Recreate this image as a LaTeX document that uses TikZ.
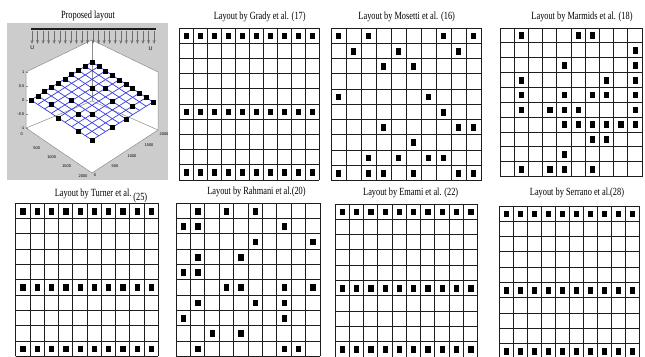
\documentclass[tikz,border=0pt]{standalone}
\usepackage{fontspec}
\usepackage{tikz}
\usetikzlibrary{arrows.meta,plotmarks}
\newfontfamily\ttlfont[FakeStretch=0.76]{Liberation Serif}
\newfontfamily\axfont{Liberation Sans}
\definecolor{figline}{RGB}{30,30,30}
\definecolor{figpanel}{RGB}{204,204,204}
\definecolor{figbox}{RGB}{140,140,140}
\definecolor{figmesh}{RGB}{55,60,225}
\definecolor{figwind}{RGB}{110,110,110}
\tikzset{
  cellg/.style ={draw=figline, line width=0.9bp, step=1},
  wt/.style    ={mark=square*, mark size=2.5bp, mark options={fill=black, draw=black, xscale=0.86, yscale=1.14}},
  wtd/.style   ={mark=square*, mark size=2bp, mark options={fill=black, draw=black}},
  bx/.style    ={draw=figbox, line width=0.5bp},
  msh/.style   ={draw=figmesh, line width=0.7bp},
  ttl/.style   ={font=\ttlfont\fontsize{11}{12}\selectfont, inner sep=0pt, anchor=base},
  labs/.style  ={font=\axfont\fontsize{4}{4}\selectfont, inner sep=0pt},
  labu/.style  ={font=\axfont\fontsize{5.5}{5.5}\selectfont, inner sep=0pt},
  wnd/.style   ={draw=figwind, line width=0.5bp, -{Stealth[open,length=4bp,width=3bp]}},
}

\begin{document}
\begin{tikzpicture}[x=1bp,y=-1bp]
  \useasboundingbox (0,0) rectangle (645,356);
  % proposed layout (3d view)
  \fill[figpanel] (7,23) rectangle (168,180);
  \node[ttl] (tprop) at (88,18.5) {Proposed layout};
  \fill[white] (26,72) -- (92,40) -- (158,72) -- (158,130) -- (92,173) -- (26,128) -- cycle;
  \draw[bx] (26,128) -- (26,72) -- (92,40) -- (158,72) -- (158,130);
  \draw[bx] (26,128) -- (92,173) -- (158,130);
  \draw[bx] (92,40) -- (92,101);
  \draw[bx] (26,128) -- (92,101) -- (158,130);
  \draw[bx] (26,72) -- (28,72);
  \draw[bx] (26,86) -- (28,86);
  \draw[bx] (26,100) -- (28,100);
  \draw[bx] (26,114) -- (28,114);
  \draw[bx] (26,128) -- (28,128);
  \node[labs,anchor=east] (z1) at (24.5,72) {1};
  \node[labs,anchor=east] (z2) at (24.5,86) {0.5};
  \node[labs,anchor=east] (z3) at (24.5,100) {0};
  \node[labs,anchor=east] (z4) at (24.5,114) {-0.5};
  \node[labs,anchor=east] (z5) at (24.5,128) {-1};
  \node[labs] (xa1) at (21.7,134.3) {0};
  \node[labs] (xa2) at (36.7,148) {500};
  \node[labs] (xa3) at (51.7,157) {1000};
  \node[labs] (xa4) at (66.7,166) {1500};
  \node[labs] (xa5) at (83,176) {2000};
  \node[labs] (ya1) at (95,175) {0};
  \node[labs] (ya2) at (115,166) {500};
  \node[labs] (ya3) at (132,156) {1000};
  \node[labs] (ya4) at (149,145) {1500};
  \node[labs] (ya5) at (164,134.5) {2000};
  \begin{scope}[shift={(31,100)}, x={(6.778bp,4.222bp)}, y={(6.778bp,-4.444bp)}]
  \draw[msh] (0,0) -- (0,9) (1,0) -- (1,9) (2,0) -- (2,9) (3,0) -- (3,9) (4,0) -- (4,9);
  \draw[msh] (5,0) -- (5,9) (6,0) -- (6,9) (7,0) -- (7,9) (8,0) -- (8,9) (9,0) -- (9,9);
  \draw[msh] (0,0) -- (9,0) (0,1) -- (9,1) (0,2) -- (9,2) (0,3) -- (9,3) (0,4) -- (9,4);
  \draw[msh] (0,5) -- (9,5) (0,6) -- (9,6) (0,7) -- (9,7) (0,8) -- (9,8) (0,9) -- (9,9);
  \path[wtd] plot[only marks] coordinates {(0,0) (1,0) (2,0) (3,0) (4,0) (5,0) (6,0) (7,0) (8,0) (9,0)
    (9,1) (9,2) (9,3) (9,4) (9,5) (9,6) (9,7) (9,8) (9,9)
    (3,3) (6,6) (6,3) (7,4) (1,2) (7,8) (0,4) (2,5) (3,6) (5,9) (0,7) (3,9) (0,9)};
  \end{scope}
  \draw[figline, line width=1.5bp] (31,29) -- (156,29);
  \draw[wnd] (32,31) -- (32,44);
  \draw[wnd] (37.55,31) -- (37.55,44);
  \draw[wnd] (43.1,31) -- (43.1,44);
  \draw[wnd] (48.65,31) -- (48.65,44);
  \draw[wnd] (54.2,31) -- (54.2,44);
  \draw[wnd] (59.75,31) -- (59.75,44);
  \draw[wnd] (65.3,31) -- (65.3,44);
  \draw[wnd] (70.85,31) -- (70.85,44);
  \draw[wnd] (76.4,31) -- (76.4,44);
  \draw[wnd] (81.95,31) -- (81.95,44);
  \draw[wnd] (87.5,31) -- (87.5,44);
  \draw[wnd] (93.05,31) -- (93.05,44);
  \draw[wnd] (98.6,31) -- (98.6,44);
  \draw[wnd] (104.15,31) -- (104.15,44);
  \draw[wnd] (109.7,31) -- (109.7,44);
  \draw[wnd] (115.25,31) -- (115.25,44);
  \draw[wnd] (120.8,31) -- (120.8,44);
  \draw[wnd] (126.35,31) -- (126.35,44);
  \draw[wnd] (131.9,31) -- (131.9,44);
  \draw[wnd] (137.45,31) -- (137.45,44);
  \draw[wnd] (143,31) -- (143,44);
  \draw[wnd] (148.55,31) -- (148.55,44);
  \draw[wnd] (154.1,31) -- (154.1,44);
  \node[labu] (uleft) at (32.3,48) {U};
  \node[labu] (uright) at (150.7,48.5) {U};
  % Grady
  \node[ttl] (tgrady) at (259.7,19) {Layout by Grady et al. (17)};
  \begin{scope}[shift={(179,180)}, x=14bp, y=15.2bp]
  \draw[cellg] (0,0) grid (10,10);
  \path[wt] plot[only marks] coordinates {(0.5,9.5) (1.5,9.5) (2.5,9.5) (3.5,9.5) (4.5,9.5) (5.5,9.5) (6.5,9.5) (7.5,9.5) (8.5,9.5) (9.5,9.5)
    (0.5,4.5) (1.5,4.5) (2.5,4.5) (3.5,4.5) (4.5,4.5) (5.5,4.5) (6.5,4.5) (7.5,4.5) (8.5,4.5) (9.5,4.5)
    (0.5,0.5) (1.5,0.5) (2.5,0.5) (3.5,0.5) (4.5,0.5) (5.5,0.5) (6.5,0.5) (7.5,0.5) (8.5,0.5) (9.5,0.5)};
  \end{scope}
  % Mosetti
  \node[ttl] (tmosetti) at (406.7,19) {Layout by Mosetti et al. (16)};
  \begin{scope}[shift={(331,180.5)}, x=15bp, y=15.25bp]
  \draw[cellg] (0,0) grid (10,10);
  \path[wt] plot[only marks] coordinates {(0.5,9.5) (2.5,9.5) (7.5,9.5) (9.5,9.5)
    (1.5,8.5) (4.5,8.5) (8.5,8.5) (3.5,7.5) (5.5,7.5) (0.5,5.5) (6.5,5.5) (7.5,4.5)
    (3.5,3.5) (8.5,3.5) (9.5,3.5) (5.5,2.5) (2.5,1.5) (4.5,1.5) (6.5,1.5) (7.5,1.5)
    (0.5,0.5) (2.5,0.5) (3.5,0.5) (5.5,0.5) (8.5,0.5) (9.5,0.5)};
  \end{scope}
  % Marmids
  \node[ttl] (tmarmids) at (582,19) {Layout by Marmids et al. (18)};
  \begin{scope}[shift={(500,176.5)}, x=14.2bp, y=14.85bp]
  \draw[cellg] (0,0) grid (10,10);
  \path[wt] plot[only marks] coordinates {(1.5,9.5) (5.5,9.5) (6.5,9.5) (9.5,8.5) (4.5,7.5) (9.5,7.5)
    (1.5,6.5) (7.5,6.5) (9.5,6.5) (1.5,5.5) (4.5,5.5) (6.5,5.5) (7.5,5.5) (9.5,5.5)
    (1.5,4.5) (3.5,4.5) (4.5,4.5) (5.5,4.5) (9.5,4.5)
    (4.5,3.5) (5.5,3.5) (6.5,3.5) (7.5,3.5) (8.5,3.5) (9.5,3.5)
    (6.5,2.5) (7.5,2.5) (4.5,1.5) (1.5,0.5) (3.5,0.5) (4.5,0.5) (6.5,0.5)};
  \end{scope}
  % Turner
  \node[ttl] (tturner) at (101,196.7) {Layout by Turner et al.\,\raisebox{-3.5bp}{(25)}};
  \begin{scope}[shift={(15.7,356.3)}, x=14.26bp, y=15.3bp]
  \draw[cellg] (0,0) grid (10,10);
  \path[wt] plot[only marks] coordinates {(0.5,9.5) (1.5,9.5) (2.5,9.5) (3.5,9.5) (4.5,9.5) (5.5,9.5) (6.5,9.5) (7.5,9.5) (8.5,9.5) (9.5,9.5)
    (0.5,4.5) (1.5,4.5) (2.5,4.5) (3.5,4.5) (4.5,4.5) (5.5,4.5) (6.5,4.5) (7.5,4.5) (8.5,4.5) (9.5,4.5)
    (0.5,0.5) (1.5,0.5) (2.5,0.5) (3.5,0.5) (4.5,0.5) (5.5,0.5) (6.5,0.5) (7.5,0.5) (8.5,0.5) (9.5,0.5)};
  \end{scope}
  % Rahmani
  \node[ttl] (trahmani) at (256.5,194) {Layout by Rahmani et al.(20)};
  \begin{scope}[shift={(176,356.3)}, x=14.4bp, y=15.3bp]
  \draw[cellg] (0,0) grid (10,10);
  \path[wt] plot[only marks] coordinates {(1.5,9.5) (3.5,9.5) (5.5,9.5) (0.5,8.5) (1.5,8.5) (7.5,8.5)
    (5.5,7.5) (9.5,7.5) (1.5,6.5) (4.5,6.5) (0.5,5.5) (1.5,5.5)
    (3.5,4.5) (4.5,4.5) (7.5,4.5) (9.5,4.5) (1.5,3.5) (5.5,3.5) (7.5,3.5)
    (0.5,2.5) (7.5,2.5) (2.5,1.5) (4.5,1.5) (1.5,0.5) (7.5,0.5) (8.5,0.5)};
  \end{scope}
  % Emami
  \node[ttl] (temami) at (410.7,195) {Layout by Emami et al. (22)};
  \begin{scope}[shift={(335,357)}, x=14.27bp, y=15.3bp]
  \draw[cellg] (0,0) grid (10,10);
  \path[wt] plot[only marks] coordinates {(0.5,9.5) (1.5,9.5) (2.5,9.5) (3.5,9.5) (4.5,9.5) (5.5,9.5) (6.5,9.5) (7.5,9.5) (8.5,9.5) (9.5,9.5)
    (0.5,4.5) (1.5,4.5) (2.5,4.5) (3.5,4.5) (4.5,4.5) (5.5,4.5) (6.5,4.5) (7.5,4.5) (8.5,4.5) (9.5,4.5)
    (0.5,0.5) (1.5,0.5) (2.5,0.5) (3.5,0.5) (4.5,0.5) (5.5,0.5) (6.5,0.5) (7.5,0.5) (8.5,0.5) (9.5,0.5)};
  \end{scope}
  % Serrano
  \node[ttl] (tserrano) at (577,195) {Layout by Serrano et al.(28)};
  \begin{scope}[shift={(499,359)}, x=14.03bp, y=15.3bp]
  \draw[cellg] (0,0) grid (10,10);
  \path[wt] plot[only marks] coordinates {(0.5,9.5) (1.5,9.5) (2.5,9.5) (3.5,9.5) (4.5,9.5) (5.5,9.5) (6.5,9.5) (7.5,9.5) (8.5,9.5) (9.5,9.5)
    (0.5,4.5) (1.5,4.5) (2.5,4.5) (3.5,4.5) (4.5,4.5) (5.5,4.5) (6.5,4.5) (7.5,4.5) (8.5,4.5) (9.5,4.5)
    (0.5,0.5) (1.5,0.5) (2.5,0.5) (3.5,0.5) (4.5,0.5) (5.5,0.5) (6.5,0.5) (7.5,0.5) (8.5,0.5) (9.5,0.5)};
  \end{scope}
\end{tikzpicture}
\end{document}
